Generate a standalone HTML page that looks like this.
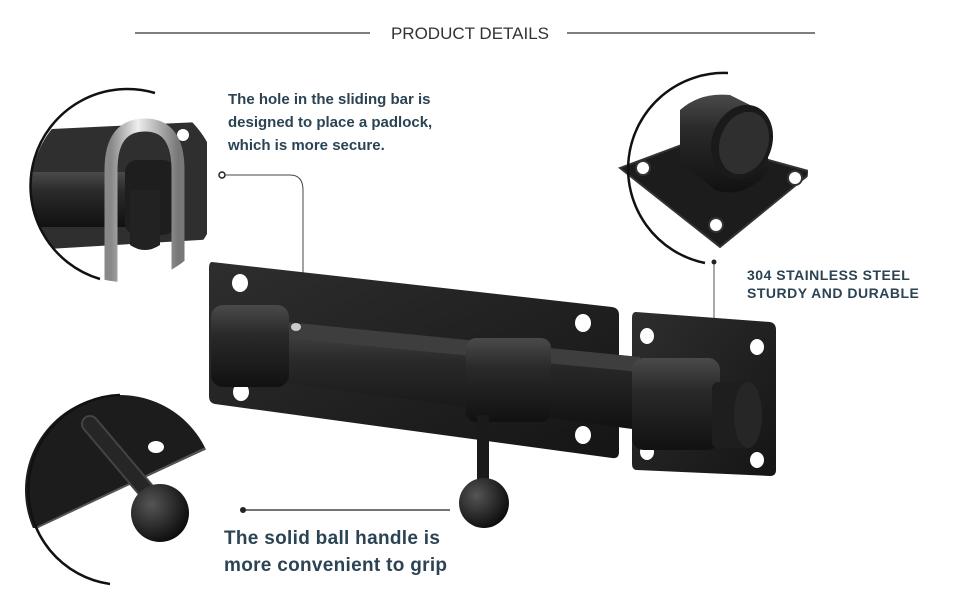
<!DOCTYPE html>
<html><head><meta charset="utf-8"><style>
html,body{margin:0;padding:0;background:#fff;}
body{width:970px;height:600px;overflow:hidden;position:relative;font-family:"Liberation Sans",sans-serif;}
.t{position:absolute;color:#2b4353;font-weight:bold;}
</style></head><body>
<svg width="970" height="600" style="position:absolute;left:0;top:0">
<defs>
<linearGradient id="cyl" x1="0" y1="0" x2="0" y2="1">
<stop offset="0" stop-color="#4a4a4a"/><stop offset="0.35" stop-color="#2a2a2a"/><stop offset="1" stop-color="#111"/></linearGradient>
<linearGradient id="pl" x1="0" y1="0" x2="1" y2="1">
<stop offset="0" stop-color="#2e2e2e"/><stop offset="1" stop-color="#151515"/></linearGradient>
<linearGradient id="sil" x1="0" y1="0" x2="1" y2="0">
<stop offset="0" stop-color="#888"/><stop offset="0.4" stop-color="#eee"/><stop offset="1" stop-color="#777"/></linearGradient>
<radialGradient id="ball" cx="0.35" cy="0.35" r="0.7">
<stop offset="0" stop-color="#555"/><stop offset="1" stop-color="#0c0c0c"/></radialGradient>
<clipPath id="c1"><circle cx="125" cy="188" r="94"/></clipPath>
<clipPath id="c2"><circle cx="712" cy="168" r="96"/></clipPath>
<clipPath id="c3"><circle cx="120" cy="490" r="95"/></clipPath>
</defs>
<line x1="135" y1="33" x2="370" y2="33" stroke="#333" stroke-width="1.3"/>
<line x1="567" y1="33" x2="815" y2="33" stroke="#333" stroke-width="1.3"/>
<text x="470" y="39" font-size="17" fill="#333" text-anchor="middle" font-family="Liberation Sans">PRODUCT DETAILS</text>

<!-- circle 1 -->
<g clip-path="url(#c1)">
<path d="M30 130 L200 122 Q207 122 207 130 L207 235 Q207 240 200 240 L30 250 Z" fill="#2f2f2f"/>
<circle cx="183" cy="135" r="6" fill="#fff"/>
<rect x="30" y="172" width="130" height="55" fill="url(#cyl)"/>
<rect x="125" y="160" width="50" height="75" rx="12" fill="#1e1e1e"/>
<path d="M111 285 L111 170 Q111 125 145 125 Q178 125 178 170 L178 275" fill="none" stroke="url(#sil)" stroke-width="13"/>
<path d="M130 190 L130 245 Q145 255 160 245 L160 190" fill="#222"/>
</g>
<path d="M155 93 A94 94 0 0 0 100 279" fill="none" stroke="#111" stroke-width="2.5"/>

<!-- circle 2 -->
<g clip-path="url(#c2)">
<polygon points="620,168 695,140 812,172 720,247" fill="#1c1c1c" stroke="#333" stroke-width="2"/>
<circle cx="643" cy="168" r="7" fill="#fff" stroke="#333" stroke-width="2"/>
<circle cx="795" cy="178" r="7" fill="#fff" stroke="#333" stroke-width="2"/>
<circle cx="716" cy="225" r="7" fill="#fff" stroke="#333" stroke-width="2"/>
<path d="M680 110 Q700 92 730 95 L760 110 L770 170 Q745 200 715 190 L680 160 Z" fill="url(#cyl)"/>
<ellipse cx="742" cy="142" rx="30" ry="38" fill="#1a1a1a" transform="rotate(20 742 142)"/>
<ellipse cx="744" cy="143" rx="24" ry="32" fill="#2f2f2f" transform="rotate(20 744 143)"/>
</g>
<path d="M728 73 A96 96 0 0 0 705 263" fill="none" stroke="#111" stroke-width="2.5"/>

<!-- circle 3 -->
<g clip-path="url(#c3)">
<polygon points="20,395 220,395 220,443 36,528 20,528" fill="#1c1c1c"/>
<line x1="36" y1="528" x2="212" y2="445" stroke="#555" stroke-width="2"/>
<ellipse cx="156" cy="447" rx="8" ry="6" fill="#fff"/>
<line x1="90" y1="424" x2="150" y2="495" stroke="#444" stroke-width="18" stroke-linecap="round"/>
<line x1="90" y1="424" x2="150" y2="495" stroke="#262626" stroke-width="14" stroke-linecap="round"/>
<circle cx="160" cy="513" r="29" fill="url(#ball)"/>
</g>
<path d="M120 395 A95 95 0 0 0 110 584" fill="none" stroke="#111" stroke-width="2.5"/>

<!-- callouts -->
<circle cx="222" cy="175" r="3" fill="#fff" stroke="#222" stroke-width="1.5"/>
<path d="M225 175 L290 175 Q303 175 303 190 L303 325" fill="none" stroke="#444" stroke-width="1"/>
<line x1="714" y1="262" x2="714" y2="400" stroke="#555" stroke-width="1"/>
<circle cx="714" cy="262" r="2.5" fill="#222"/>
<circle cx="243" cy="510" r="3" fill="#222"/>
<line x1="243" y1="510" x2="450" y2="510" stroke="#222" stroke-width="1.2"/>

<!-- main product -->
<path d="M212 262 L612 307 Q619 308 619 315 L619 452 Q619 459 612 458 L215 404 Q209 403 209 396 L209 268 Q209 262 212 262 Z" fill="url(#pl)"/>
<path d="M636 312 L770 322 Q776 323 776 330 L776 470 Q776 476 770 476 L637 470 Q632 470 632 464 L632 318 Q632 312 636 312 Z" fill="url(#pl)"/>
<g fill="#fff">
<ellipse cx="240" cy="283" rx="8" ry="9"/><ellipse cx="241" cy="392" rx="8" ry="9"/>
<ellipse cx="583" cy="323" rx="8" ry="9"/><ellipse cx="583" cy="435" rx="8" ry="9"/>
<ellipse cx="647" cy="336" rx="7" ry="8"/><ellipse cx="757" cy="347" rx="7" ry="8"/>
<ellipse cx="647" cy="452" rx="7" ry="8"/><ellipse cx="757" cy="460" rx="7" ry="8"/>
</g>
<polygon points="285,322 640,357 640,430 285,383" fill="url(#cyl)"/>
<polygon points="285,322 640,357 640,372 285,338" fill="#3e3e3e"/>
<rect x="211" y="305" width="78" height="82" rx="12" fill="url(#cyl)"/>
<ellipse cx="296" cy="327" rx="5" ry="4" fill="#ccc"/>
<rect x="466" y="338" width="85" height="84" rx="10" fill="url(#cyl)"/>
<rect x="477" y="415" width="12" height="70" fill="#1a1a1a"/>
<circle cx="484" cy="503" r="25" fill="url(#ball)"/>
<rect x="632" y="358" width="88" height="92" rx="12" fill="url(#cyl)"/>
<rect x="712" y="382" width="40" height="66" rx="6" fill="#1e1e1e"/>
<ellipse cx="748" cy="415" rx="14" ry="33" fill="#262626"/>
</svg>
<div class="t" style="left:228px;top:88px;font-size:15px;line-height:23px;font-weight:600">The hole in the sliding bar is<br>designed to place a padlock,<br>which is more secure.</div>
<div class="t" style="left:747px;top:266px;font-size:14px;line-height:18px;letter-spacing:0.5px">304 STAINLESS STEEL<br>STURDY AND DURABLE</div>
<div class="t" style="left:224px;top:525px;font-size:19px;line-height:27px;letter-spacing:0.3px">The solid ball handle is<br>more convenient to grip</div>
</body></html>
